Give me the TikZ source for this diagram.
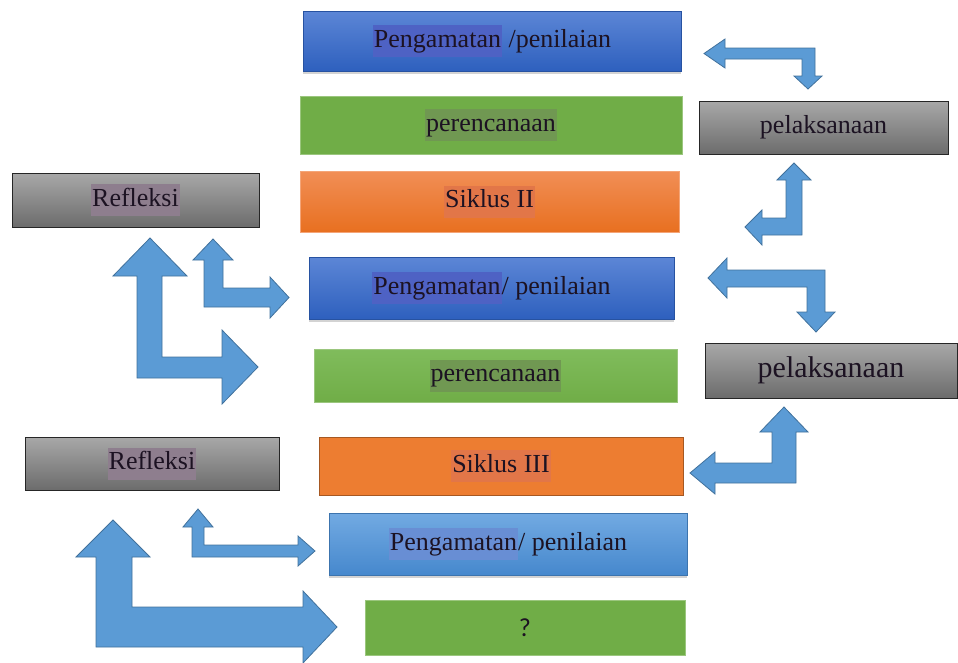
\documentclass[tikz,border=0pt]{standalone}
\usepackage{fontspec}
\setmainfont{Liberation Serif}
\newfontfamily\asksans{Carlito}
\usetikzlibrary{shadows}

\definecolor{inkdark}{RGB}{28,18,34}
\definecolor{obsTop}{RGB}{92,134,214}
\definecolor{obsBot}{RGB}{46,96,190}
\definecolor{obsLightTop}{RGB}{114,170,226}
\definecolor{obsLightBot}{RGB}{70,136,205}
\definecolor{planGreen}{RGB}{112,173,71}
\definecolor{planTop}{RGB}{128,188,92}
\definecolor{sikTop}{RGB}{241,142,86}
\definecolor{sikBot}{RGB}{232,112,32}
\definecolor{sikFlat}{RGB}{237,125,49}
\definecolor{greyTop}{RGB}{168,168,168}
\definecolor{greyBot}{RGB}{108,108,108}
\definecolor{arrowblue}{RGB}{91,155,213}
\definecolor{arrowedge}{RGB}{65,113,156}
\definecolor{hlBlue}{RGB}{78,98,196}
\definecolor{hlLight}{RGB}{104,142,212}
\definecolor{hlGreen}{RGB}{112,152,82}
\definecolor{hlOrange}{RGB}{226,118,72}
\definecolor{hlGrey}{RGB}{142,126,142}

\newcommand{\hlword}[2]{{\setlength{\fboxsep}{1pt}\colorbox{#1}{\strut #2}}}

\begin{document}
\begin{tikzpicture}[
   x=1pt,y=-1pt,
   every node/.style={font=\fontsize{26}{30}\selectfont,text=inkdark,inner sep=0pt},
   stage/.style={rectangle,line width=.8pt},
   observe/.style={stage,top color=obsTop,bottom color=obsBot,draw=obsBot!85!black,
     drop shadow={shadow xshift=0pt,shadow yshift=-3pt,opacity=.35}},
   observelight/.style={stage,top color=obsLightTop,bottom color=obsLightBot,draw=obsLightBot!85!black,
     drop shadow={shadow xshift=0pt,shadow yshift=-3pt,opacity=.35}},
   plan/.style={stage,fill=planGreen,draw=planGreen!70!white},
   siklus/.style={stage,top color=sikTop,bottom color=sikBot,draw=sikTop!80!white},
   reflect/.style={stage,top color=greyTop,bottom color=greyBot,draw=black!85,line width=1pt},
   bigarrow/.style={fill=arrowblue,draw=arrowedge,line width=.8pt,line join=miter}
 ]
  \useasboundingbox (0,0) rectangle (958,662);

  % Centre column, cycle II on top.
  \node[observe,minimum width=378,minimum height=60] (obsA) at (492,41)
    {\hlword{hlBlue}{Pengamatan} /penilaian};
  \node[plan,minimum width=382,minimum height=58] (planA) at (491,125)
    {\hlword{hlGreen}{perencanaan}};
  \node[siklus,minimum width=379,minimum height=61] (sikA) at (489.5,201.5)
    {\hlword{hlOrange}{Siklus II}};

  % Centre column, cycle III.
  \node[observe,minimum width=365,minimum height=62] (obsB) at (491.5,288)
    {\hlword{hlBlue}{Pengamatan}/ penilaian};
  \node[plan,top color=planTop,bottom color=planGreen,minimum width=363,minimum height=53] (planB) at (495.5,375.5)
    {\hlword{hlGreen}{perencanaan}};
  \node[stage,fill=sikFlat,draw=sikFlat!70!black,minimum width=364,minimum height=58] (sikB) at (501,466)
    {\hlword{hlOrange}{Siklus III}};

  % The open cycle at the bottom.
  \node[observelight,minimum width=358,minimum height=62] (obsC) at (508,544)
    {\hlword{hlLight}{Pengamatan}/ penilaian};
  \node[plan,minimum width=320,minimum height=55] (planC) at (525,627.5)
    {\asksans ?};

  % Side boxes.
  \node[reflect,minimum width=247,minimum height=54] (reflA) at (135.5,200)
    {\hlword{hlGrey}{Refleksi}};
  \node[reflect,minimum width=254,minimum height=53] (reflB) at (152,463.5)
    {\hlword{hlGrey}{Refleksi}};
  \node[reflect,minimum width=249,minimum height=53] (pelA) at (823.5,127.5)
    {pelaksanaan};
  \node[reflect,minimum width=252,minimum height=55,font=\fontsize{30}{34}\selectfont] (pelB) at (831,370.5)
    {pelaksanaan};

  % Right-hand bent arrows.
  \path[bigarrow] (704,53.5) -- (725,39) -- (725,48) -- (815,48) -- (815,76) -- (822,76)
    -- (808,89) -- (794,76) -- (802,76) -- (802,59) -- (725,59) -- (725,68) -- cycle;
  \path[bigarrow] (794,163) -- (811,180) -- (802,180) -- (802,235) -- (762,235) -- (762,245)
    -- (745,227) -- (762,210) -- (762,218) -- (786,218) -- (786,180) -- (777,180) -- cycle;
  \path[bigarrow] (708,278) -- (727,258) -- (727,270) -- (825,270) -- (825,312) -- (835,312)
    -- (816,332) -- (797,312) -- (807,312) -- (807,287) -- (727,287) -- (727,298) -- cycle;
  \path[bigarrow] (784,407) -- (808,432) -- (796,432) -- (796,483) -- (715,483) -- (715,494)
    -- (690,473) -- (715,452) -- (715,463) -- (772,463) -- (772,432) -- (760,432) -- cycle;

  % Left-hand bent arrows.
  \path[bigarrow] (150,238) -- (187,276) -- (162,276) -- (162,357) -- (222,357) -- (222,330)
    -- (258,367) -- (222,404) -- (222,378) -- (137,378) -- (137,276) -- (113,276) -- cycle;
  \path[bigarrow] (213,239) -- (233,260) -- (223,260) -- (223,288) -- (270,288) -- (270,277)
    -- (289,297.5) -- (270,318) -- (270,307) -- (204,307) -- (204,260) -- (193,260) -- cycle;
  \path[bigarrow] (113,520) -- (150,557) -- (132,557) -- (132,607) -- (303,607) -- (303,591)
    -- (337,627) -- (303,663) -- (303,647) -- (96,647) -- (96,557) -- (76,557) -- cycle;
  \path[bigarrow] (198,509) -- (213,527) -- (204,527) -- (204,545) -- (298,545) -- (298,536)
    -- (315,551) -- (298,566) -- (298,557) -- (192,557) -- (192,527) -- (183,527) -- cycle;
 \end{tikzpicture}
\end{document}
